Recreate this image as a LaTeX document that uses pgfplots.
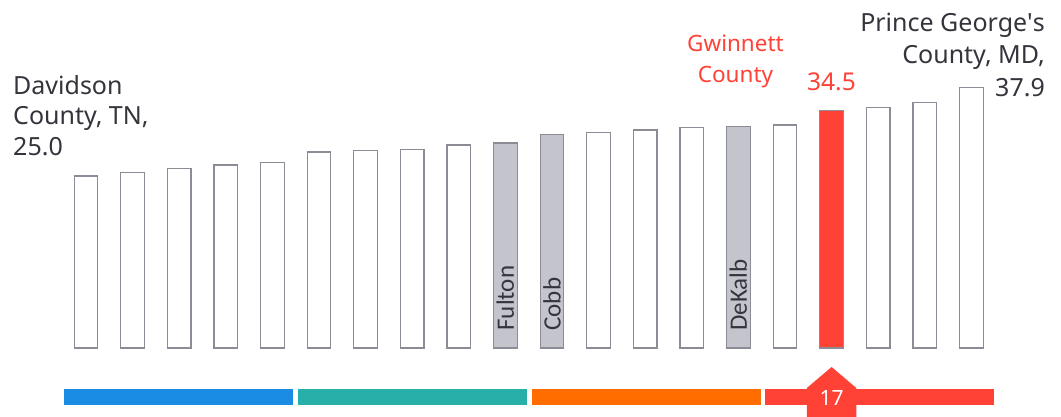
\documentclass[border=0pt]{standalone}
\usepackage{pgfplots}
\pgfplotsset{compat=1.18}
\usepackage{fontspec}
\setmainfont{Noto Sans}
\newfontfamily\barfont{Carlito}
\definecolor{txt}{HTML}{34343C}
\definecolor{eyred}{HTML}{FF4136}
\definecolor{bargray}{HTML}{C4C4CD}
\definecolor{barline}{HTML}{8C8C96}
\definecolor{eyblue}{HTML}{1A8CE3}
\definecolor{eyteal}{HTML}{27AFAA}
\definecolor{eyorange}{HTML}{FF6D00}
\pgfplotstableread{
x y
1 25.0
2 25.5
3 26.1
4 26.6
5 27.0
6 28.5
7 28.7
8 28.9
9 29.5
12 31.3
13 31.7
14 32.1
16 32.4
18 35.0
19 35.7
20 37.9
}\whitebars
\pgfplotstableread{
x y
10 29.8
11 31.0
15 32.2
}\graybars
\pgfplotstableread{
x y
17 34.5
}\redbar
\begin{document}
\begin{tikzpicture}[x=1pt,y=1pt]
\useasboundingbox (0,0) rectangle (1061,417);
\begin{axis}[
 at={(39.4pt,69pt)}, anchor=south west,
 scale only axis, width=978.6pt, height=275.2pt,
 xmin=0, xmax=21, ymin=0, ymax=40,
 hide axis, clip=false,
]
\addplot[ybar, bar width=23.5pt, bar shift=0pt, fill=white, draw=barline, line width=1.2pt] table {\whitebars};
\addplot[ybar, bar width=23.5pt, bar shift=0pt, fill=bargray, draw=barline, line width=1.2pt] table {\graybars};
\addplot[ybar, bar width=23.5pt, bar shift=0pt, fill=eyred, draw=barline, line width=1.2pt] table {\redbar};
% category bands
\addplot[fill=eyblue, draw=none] coordinates {(0.53,-8.28) (5.44,-8.28) (5.44,-5.96) (0.53,-5.96)} -- cycle;
\addplot[fill=eyteal, draw=none] coordinates {(5.55,-8.28) (10.46,-8.28) (10.46,-5.96) (5.55,-5.96)} -- cycle;
\addplot[fill=eyorange, draw=none] coordinates {(10.57,-8.28) (15.49,-8.28) (15.49,-5.96) (10.57,-5.96)} -- cycle;
\addplot[fill=eyred, draw=none] coordinates {(15.57,-8.28) (20.49,-8.28) (20.49,-5.96) (15.57,-5.96)} -- cycle;
\addplot[fill=eyred, draw=none] coordinates {(16.47,-10.5) (16.47,-5.81) (17,-2.76) (17.53,-5.81) (17.53,-10.5)} -- cycle;
\node[text=white, font=\fontsize{21}{21}\selectfont, anchor=base, inner sep=0pt] at (axis cs:17,-8.43) {17};
% in-bar labels
\foreach \xx/\lab in {10/Fulton,11/Cobb,15/DeKalb}{
 \edef\temp{\noexpand\node[rotate=90, anchor=west, inner sep=0pt, text=txt, font=\noexpand\barfont\noexpand\fontsize{25}{25}\noexpand\selectfont] at (axis cs:\xx,2.5) {\lab};}
 \temp
}
\end{axis}
% annotations
\begin{scope}[every node/.style={inner sep=0pt, text=txt, font=\fontsize{25}{25}\selectfont}]
\node[anchor=base west] at (13,322) {Davidson};
\node[anchor=base west] at (13,292) {County, TN,};
\node[anchor=base west] at (13,261) {25.0};
\node[anchor=base east] at (1045,385) {Prince George\textquotesingle s};
\node[anchor=base east] at (1045,353) {County, MD,};
\node[anchor=base east] at (1045,320) {37.9};
\end{scope}
\begin{scope}[every node/.style={inner sep=0pt, text=eyred, font=\fontsize{22.5}{22.5}\selectfont}]
\node[anchor=base] at (735.5,365) {Gwinnett};
\node[anchor=base] at (735.5,334) {County};
\node[anchor=base, font=\fontsize{24.5}{24.5}\selectfont] at (831.5,326) {34.5};
\end{scope}
\end{tikzpicture}
\end{document}
